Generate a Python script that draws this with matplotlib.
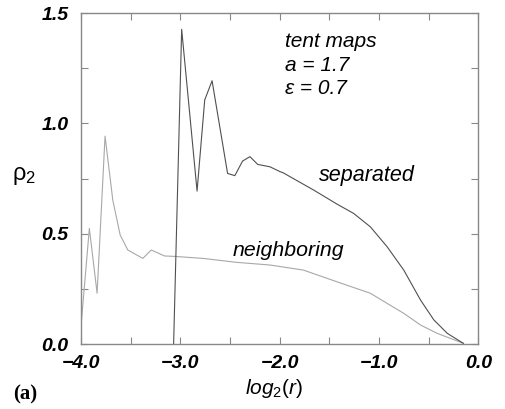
import matplotlib
matplotlib.use("Agg")
import matplotlib.pyplot as plt
from matplotlib.ticker import MultipleLocator, FuncFormatter

# curves
sep_x = [-3.068, -2.987, -2.832, -2.755, -2.681, -2.525, -2.452, -2.374,
         -2.300, -2.222, -2.098, -1.997, -1.966, -1.660, -1.424, -1.257,
         -1.088, -0.920, -0.752, -0.583, -0.449, -0.313, -0.152]
sep_y = [0.0, 1.426, 0.693, 1.106, 1.193, 0.773, 0.763, 0.829,
         0.849, 0.814, 0.803, 0.781, 0.776, 0.698, 0.634, 0.592,
         0.531, 0.441, 0.335, 0.199, 0.109, 0.048, 0.003]

nb_x = [-4.0, -3.916, -3.838, -3.758, -3.680, -3.606, -3.529, -3.378,
        -3.293, -3.159, -3.058, -2.772, -2.434, -2.098, -1.762, -1.424,
        -1.088, -0.919, -0.752, -0.583, -0.414, -0.152]
nb_y = [0.08, 0.524, 0.230, 0.942, 0.652, 0.494, 0.426, 0.388,
        0.426, 0.399, 0.397, 0.388, 0.370, 0.358, 0.335, 0.282,
        0.230, 0.184, 0.139, 0.086, 0.048, 0.003]

x_major = [-4.0, -3.0, -2.0, -1.0, 0.0]
y_major = [0.0, 0.5, 1.0, 1.5]

plt.rcParams["font.family"] = ["Liberation Sans", "DejaVu Sans"]
plt.rcParams["mathtext.fontset"] = "custom"
plt.rcParams["mathtext.rm"] = "Liberation Sans"
plt.rcParams["mathtext.it"] = "Liberation Sans:italic"

fig = plt.figure(figsize=(5.05, 4.09), dpi=100)
ax = fig.add_axes([0.1604, 0.1589, 0.7871, 0.8093])

ax.plot(nb_x, nb_y, color="#a8a8a8", lw=0.8)
ax.plot(sep_x, sep_y, color="#505050", lw=0.8)

ax.set_xlim(-4.0, 0.0)
ax.set_ylim(0.0, 1.5)
ax.set_xticks(x_major)
ax.set_yticks(y_major)
ax.xaxis.set_minor_locator(MultipleLocator(0.5))
ax.yaxis.set_minor_locator(MultipleLocator(0.25))
fmt = FuncFormatter(lambda v, p: f"{v:.1f}".replace("-", "\u2212"))
ax.xaxis.set_major_formatter(fmt)
ax.yaxis.set_major_formatter(fmt)

for s in ax.spines.values():
    s.set_color("#888888")
    s.set_linewidth(1.0)
ax.tick_params(which="both", direction="in", top=True, right=True,
               color="#888888", width=0.8, length=5)
ax.tick_params(axis="x", which="major", pad=8)
ax.tick_params(axis="y", which="major", pad=9)
for lab in ax.get_xticklabels() + ax.get_yticklabels():
    lab.set_fontsize(14)
    lab.set_fontweight("bold")
    lab.set_fontstyle("italic")

fig.text(0.543, 0.051, "$log_2(r)$", fontsize=15, ha="center", va="center")
fig.text(0.048, 0.57, "ρ$_{\\mathit{2}}$", fontsize=17, ha="center", va="center")
fig.text(0.05, 0.035, "(a)", fontsize=15, fontweight="bold",
         family="Liberation Serif", ha="center", va="center")

ax.text(-1.946, 1.264, "tent maps\na = 1.7\nε = 0.7", fontsize=15,
        style="italic", ha="left", va="center", linespacing=1.3)
ax.text(-1.61, 0.765, "separated", fontsize=15.5, style="italic",
        ha="left", va="center")
ax.text(-2.47, 0.426, "neighboring", fontsize=15.3, style="italic",
        ha="left", va="center")

fig.savefig("out.png", dpi=100)
